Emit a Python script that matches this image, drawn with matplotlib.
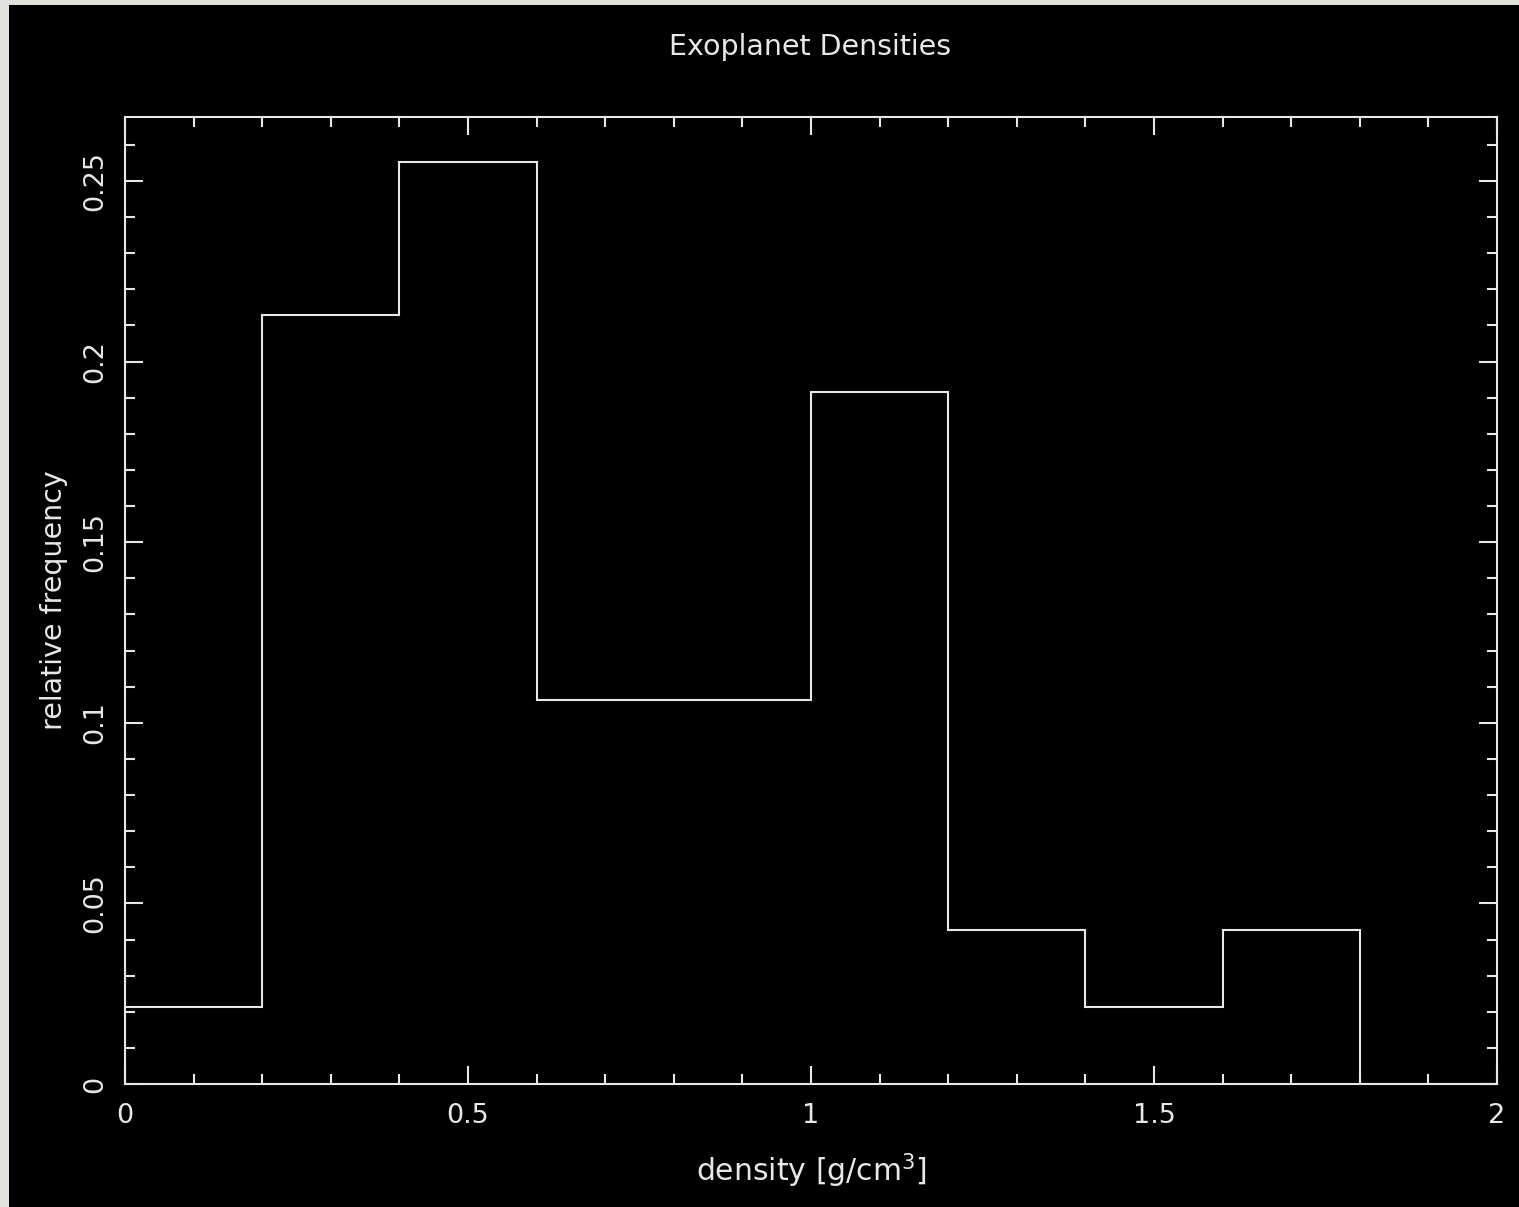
import matplotlib
matplotlib.use("Agg")
import matplotlib.pyplot as plt
from matplotlib.patches import Rectangle
from matplotlib.ticker import MultipleLocator, FixedLocator

# Data: histogram of exoplanet densities (relative frequency)
bin_edges = [0.0, 0.2, 0.4, 0.6, 0.8, 1.0, 1.2, 1.4, 1.6, 1.8, 2.0]
rel_freq = [0.0213, 0.2128, 0.2553, 0.1064, 0.1064, 0.1915, 0.0426, 0.0213, 0.0426, 0.0]
x_ticks = [0, 0.5, 1, 1.5, 2]
x_tick_labels = ["0", "0.5", "1", "1.5", "2"]
y_ticks = [0, 0.05, 0.1, 0.15, 0.2, 0.25]
y_tick_labels = ["0", "0.05", "0.1", "0.15", "0.2", "0.25"]

W, H = 1519, 1207
fig = plt.figure(figsize=(W / 100, H / 100), dpi=100)
fig.patch.set_facecolor("#e2e2dc")
bg = Rectangle((9 / W, 0), 1 - 9 / W, (H - 5) / H,
               transform=fig.transFigure, facecolor="black",
               edgecolor="none", zorder=-10)
fig.add_artist(bg)

fg = "#e8e8e8"
ax = fig.add_axes([125 / W, 1 - 1084 / H, (1497 - 125) / W, (1084 - 117) / H])
ax.set_zorder(1)
ax.set_facecolor("black")
ax.stairs(rel_freq, bin_edges, color=fg, linewidth=1.5)
ax.set_xlim(0, 2)
ax.set_ylim(0, 0.2677)

for s in ax.spines.values():
    s.set_color(fg)
    s.set_linewidth(1.5)

ax.xaxis.set_major_locator(FixedLocator(x_ticks))
ax.set_xticklabels(x_tick_labels)
ax.xaxis.set_minor_locator(MultipleLocator(0.1))
ax.yaxis.set_major_locator(FixedLocator(y_ticks))
ax.set_yticklabels(y_tick_labels, rotation=90, va="center")
ax.yaxis.set_minor_locator(MultipleLocator(0.01))

ax.tick_params(which="both", direction="in", top=True, right=True,
               color=fg, width=1.5, labelcolor=fg, labelsize=19.5)
ax.tick_params(which="major", length=13)
ax.tick_params(axis="x", which="major", pad=14)
ax.tick_params(axis="y", which="major", pad=12)
ax.tick_params(which="minor", length=7)

ax.set_xlabel(r"density [g/cm$^3$]", color=fg, fontsize=21.5, labelpad=16)
ax.set_ylabel("relative frequency", color=fg, fontsize=20.5, labelpad=10)
fig.text(810 / W, 1 - 47 / H, "Exoplanet Densities", color=fg, fontsize=20.5,
         ha="center", va="center", zorder=2)

fig.savefig("out.png", dpi=100, facecolor=fig.get_facecolor())
